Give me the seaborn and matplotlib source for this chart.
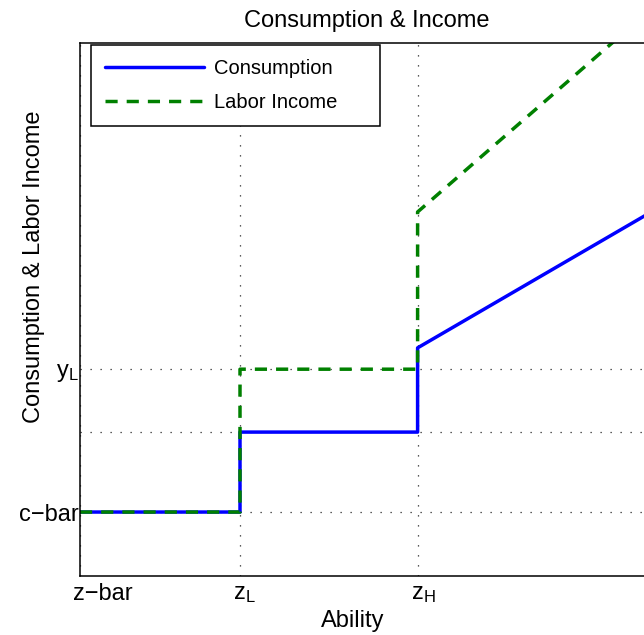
import numpy as np
import pandas as pd
import seaborn as sns
import matplotlib.pyplot as plt
from matplotlib.transforms import ScaledTranslation

# ability grid points (repeated x for the jumps)
ability = [1.0, 2.0, 2.0, 3.11, 3.11, 5.0]
consumption = [1.2, 1.2, 2.7, 2.7, 4.28, 7.58]
labor_income = [1.2, 1.2, 3.88, 3.88, 6.83, 11.76]

x_ticks = [1.0, 2.0, 3.11]
x_ticklabels = ['z\u2212bar', r'$\mathregular{z_L}$', r'$\mathregular{z_H}$']
y_ticks = [1.2, 2.7, 3.88]
y_ticklabels = ['c\u2212bar', '', r'$\mathregular{y_L}$']

df = pd.concat([
    pd.DataFrame({'ability': ability, 'value': consumption, 'series': 'Consumption'}),
    pd.DataFrame({'ability': ability, 'value': labor_income, 'series': 'Labor Income'}),
])

sns.set_theme(style='white')
plt.rcParams['font.family'] = ['Liberation Sans', 'DejaVu Sans']
plt.rcParams['mathtext.default'] = 'regular'
plt.rcParams['text.color'] = 'black'
plt.rcParams['axes.labelcolor'] = 'black'
plt.rcParams['xtick.color'] = 'black'
plt.rcParams['ytick.color'] = 'black'
fs = 17

fig = plt.figure(figsize=(6.44, 6.35), dpi=100)
ax = fig.add_axes([80 / 644, 59 / 635, 640 / 644, 533 / 635])

sns.lineplot(data=df, x='ability', y='value', hue='series', style='series',
             palette={'Consumption': '#0000ff', 'Labor Income': '#008000'},
             dashes={'Consumption': '', 'Labor Income': (3.5, 2.6)},
             sort=False, estimator=None, linewidth=2.5, ax=ax, legend=True)

ax.set_xlim(1.0, 5.0)
ax.set_ylim(0, 10)
ax.set_xticks(x_ticks)
ax.set_xticklabels(x_ticklabels, fontsize=fs, ha='left')
ax.set_yticks(y_ticks)
ax.set_yticklabels(y_ticklabels, fontsize=fs)
ax.tick_params(direction='in', length=4, width=0.8, color='black')
ax.tick_params(axis='x', pad=5)
ax.tick_params(axis='y', pad=1)
for lab in ax.get_xticklabels():
    lab.set_transform(lab.get_transform() + ScaledTranslation(-7 / 100, 0, fig.dpi_scale_trans))

ax.grid(True, color='0.15', linestyle=(0, (1, 7)), linewidth=0.9)
for s in ax.spines.values():
    s.set_color('black')
    s.set_linewidth(1.1)

ax.set_xlabel('Ability', fontsize=fs)
ax.xaxis.set_label_coords(0.4266, -0.064)
ax.set_ylabel('Consumption & Labor Income', fontsize=fs)
ax.yaxis.set_label_coords(-0.055, 0.58)
ax.set_title('Consumption & Income', fontsize=fs, x=0.448, y=1.03, pad=0)

handles, labels = ax.get_legend_handles_labels()
leg = ax.legend(handles, labels, loc='upper left', mode='expand',
                bbox_to_anchor=(0.017, 0.5, 0.4516, 0.497),
                fontsize=14.5, frameon=True, fancybox=False, framealpha=1,
                edgecolor='black', handlelength=4.9, handletextpad=0.5,
                labelspacing=0.75, borderpad=0.7, borderaxespad=0)
leg.get_frame().set_linewidth(1.1)

fig.savefig('out.png', dpi=100)
